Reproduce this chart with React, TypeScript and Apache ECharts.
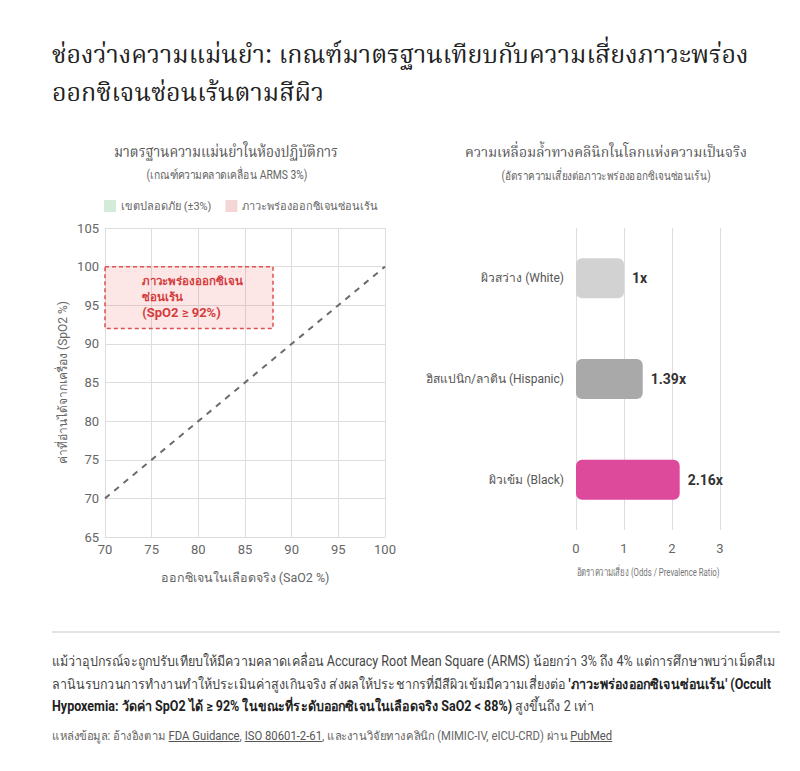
import React, { useEffect, useLayoutEffect, useRef, useState } from "react";
import * as echarts from "echarts";

// ---------- data ----------
const titleLines = [
  "ช่องว่างความแม่นยำ: เกณฑ์มาตรฐานเทียบกับความเสี่ยงภาวะพร่อง",
  "ออกซิเจนซ่อนเร้นตามสีผิว",
];
const leftTitle = "มาตรฐานความแม่นยำในห้องปฏิบัติการ";
const leftSubtitle = "(เกณฑ์ความคลาดเคลื่อน ARMS 3%)";
const rightTitle = "ความเหลื่อมล้ำทางคลินิกในโลกแห่งความเป็นจริง";
const rightSubtitle = "(อัตราความเสี่ยงต่อภาวะพร่องออกซิเจนซ่อนเร้น)";
const legendNames = ["เขตปลอดภัย (±3%)", "ภาวะพร่องออกซิเจนซ่อนเร้น"];
const xRange = [70, 100];
const yRange = [65, 105];
const tickStep = 5;
const identityLine = [
  [70, 70],
  [100, 100],
];
const occultX = [70, 88];
const occultY = [92, 100];
const occultLabelTh = ["ภาวะพร่องออกซิเจน", "ซ่อนเร้น"];
const occultLabelEn = "(SpO2 ≥ 92%)";
const leftXName = "ออกซิเจนในเลือดจริง (SaO2 %)";
const leftYName = "ค่าที่อ่านได้จากเครื่อง (SpO2 %)";

const groups = ["ผิวสว่าง (White)", "ฮิสแปนิก/ลาติน (Hispanic)", "ผิวเข้ม (Black)"];
const ratios = [1, 1.39, 2.16];
const barColors = ["#d2d2d2", "#a9a9a9", "#dd4a9b"];
const ratioRange = [0, 3];
const rightXName = "อัตราความเสี่ยง (Odds / Prevalence Ratio)";

const SANS = "Roboto, 'Noto Sans', sans-serif";
const SERIF = "'Noto Serif Thai', serif";
const GRID_LINE = "#dddddd";

function Chart() {
  const ref = useRef<HTMLDivElement>(null);
  useEffect(() => {
    if (!ref.current) return;
    const chart = echarts.init(ref.current, null, { renderer: "svg" });
    const centerText = (
      text: string,
      x: number,
      y: number,
      font: string,
      fill: string,
      sx: number
    ) => ({
      type: "text",
      x,
      y,
      scaleX: sx,
      silent: true,
      style: {
        text,
        font,
        fill,
        align: "center",
        verticalAlign: "middle",
        textAlign: "center",
        textVerticalAlign: "middle",
      },
    });
    chart.setOption({
      animation: false,
      backgroundColor: "#ffffff",
      textStyle: { fontFamily: SANS },
      graphic: [
        centerText(leftTitle, 226, 153, `15px ${SERIF}`, "#555555", 0.92),
        centerText(leftSubtitle, 227, 175, `12px ${SANS}`, "#666666", 0.86),
        centerText(rightTitle, 606, 153, `15px ${SERIF}`, "#555555", 0.93),
        centerText(rightSubtitle, 606, 176, `12px ${SANS}`, "#666666", 0.83),
        centerText(rightXName, 648, 572, `11px ${SANS}`, "#777777", 0.71),
      ],
      legend: {
        data: legendNames,
        left: 99,
        top: 195,
        icon: "rect",
        itemWidth: 12,
        itemHeight: 12,
        itemGap: 14,
        textStyle: { color: "#666666", fontSize: 11, fontFamily: SANS },
        selectedMode: false,
      },
      grid: [
        { left: 105, top: 228, width: 280, height: 309 },
        { left: 576, top: 228, width: 144, height: 302 },
      ],
      xAxis: [
        {
          gridIndex: 0,
          type: "value",
          min: xRange[0],
          max: xRange[1],
          interval: tickStep,
          axisLine: { show: true, lineStyle: { color: GRID_LINE } },
          axisTick: { show: false },
          axisLabel: { color: "#666666", fontSize: 13, margin: 6 },
          splitLine: { show: true, lineStyle: { color: GRID_LINE } },
          name: leftXName,
          nameLocation: "middle",
          nameGap: 34,
          nameTextStyle: { color: "#666666", fontSize: 12.5 },
        },
        {
          gridIndex: 1,
          type: "value",
          min: ratioRange[0],
          max: ratioRange[1],
          interval: 1,
          axisLine: { show: false },
          axisTick: { show: false },
          axisLabel: { color: "#666666", fontSize: 13, margin: 12 },
          splitLine: { show: true, lineStyle: { color: GRID_LINE } },
        },
      ],
      yAxis: [
        {
          gridIndex: 0,
          type: "value",
          min: yRange[0],
          max: yRange[1],
          interval: tickStep,
          axisLine: { show: true, lineStyle: { color: GRID_LINE } },
          axisTick: { show: false },
          axisLabel: { color: "#666666", fontSize: 13, margin: 6 },
          splitLine: { show: true, lineStyle: { color: GRID_LINE } },
          name: leftYName,
          nameLocation: "middle",
          nameGap: 36,
          nameTextStyle: { color: "#666666", fontSize: 12 },
        },
        {
          gridIndex: 1,
          type: "category",
          data: groups,
          inverse: true,
          axisLine: { show: false },
          axisTick: { show: false },
          axisLabel: { color: "#555555", fontSize: 12, margin: 12 },
          splitLine: { show: false },
        },
      ],
      series: [
        {
          name: legendNames[0],
          type: "line",
          xAxisIndex: 0,
          yAxisIndex: 0,
          data: [],
          color: "#d3ebd8",
          itemStyle: { color: "#d3ebd8" },
          lineStyle: { color: "#d3ebd8" },
        },
        {
          name: legendNames[1],
          type: "line",
          xAxisIndex: 0,
          yAxisIndex: 0,
          data: [],
          color: "#f5d6d6",
          itemStyle: { color: "#f5d6d6" },
          lineStyle: { color: "#f5d6d6" },
          markArea: {
            silent: true,
            itemStyle: {
              color: "rgba(232, 90, 90, 0.15)",
              borderColor: "#e05050",
              borderWidth: 1.5,
              borderType: [4, 3],
            },
            label: {
              show: true,
              position: [38, 31],
              align: "left",
              verticalAlign: "middle",
              color: "#d43c3c",
              fontWeight: "bold",
              fontFamily: SANS,
              formatter: () =>
                `{th|${occultLabelTh[0]}}\n{th|${occultLabelTh[1]}}\n{en|${occultLabelEn}}`,
              rich: {
                th: {
                  fontSize: 11.5,
                  lineHeight: 16,
                  fontWeight: "bold",
                  color: "#d43c3c",
                  fontFamily: SANS,
                },
                en: {
                  fontSize: 13,
                  lineHeight: 16,
                  fontWeight: "bold",
                  color: "#d43c3c",
                  fontFamily: SANS,
                },
              },
            },
            data: [
              [
                { coord: [occultX[0], occultY[1]] },
                { coord: [occultX[1], occultY[0]] },
              ],
            ],
          },
        },
        {
          name: "identity",
          type: "line",
          xAxisIndex: 0,
          yAxisIndex: 0,
          data: identityLine,
          symbol: "none",
          lineStyle: { color: "#6b6b6b", width: 2, type: [6, 6] },
          silent: true,
        },
        {
          name: "ratio",
          type: "bar",
          xAxisIndex: 1,
          yAxisIndex: 1,
          barWidth: 40,
          data: ratios.map((v, i) => ({ value: v, itemStyle: { color: barColors[i] } })),
          itemStyle: { borderRadius: 6 },
          label: {
            show: true,
            position: "right",
            distance: 8,
            color: "#333333",
            fontWeight: "bold",
            fontSize: 14,
            formatter: (p: any) => `${p.value}x`,
          },
          silent: true,
        },
      ],
    });
    return () => chart.dispose();
  }, []);
  return (
    <div
      ref={ref}
      style={{ position: "absolute", left: 0, top: 0, width: 800, height: 615 }}
    />
  );
}

// scales a block horizontally so that its measured line fits the target width
function useFit(target: number) {
  const ref = useRef<HTMLSpanElement>(null);
  const [s, setS] = useState(1);
  useLayoutEffect(() => {
    const measure = () => {
      const el = ref.current;
      if (!el) return;
      const w = el.offsetWidth;
      if (w > 0) setS(Math.min(1, target / w));
    };
    measure();
    const fonts = (document as any).fonts;
    if (fonts && fonts.ready) fonts.ready.then(measure);
  }, [target]);
  return [ref, s] as const;
}

export default function App() {
  const linkStyle: React.CSSProperties = { textDecoration: "underline", color: "#555" };
  const [titleRef, titleScale] = useFit(700);
  const [paraRef, paraScale] = useFit(723);
  const [srcRef, srcScale] = useFit(560);
  return (
    <div
      style={{
        position: "absolute",
        left: 0,
        top: 0,
        width: 800,
        height: 771,
        background: "#ffffff",
        overflow: "hidden",
      }}
    >
      <Chart />
      <div
        style={{
          position: "absolute",
          left: 52,
          top: 37,
          fontFamily: SERIF,
          fontSize: 25,
          lineHeight: "38px",
          color: "#222222",
          whiteSpace: "nowrap",
          transformOrigin: "0 0",
          transform: `scaleX(${titleScale})`,
        }}
      >
        <div>
          <span ref={titleRef} style={{ display: "inline-block" }}>
            {titleLines[0]}
          </span>
        </div>
        <div>{titleLines[1]}</div>
      </div>
      <div
        style={{
          position: "absolute",
          left: 52,
          top: 631,
          width: 728,
          height: 0,
          borderTop: "2px solid #e3e3e3",
        }}
      />
      <div
        style={{
          position: "absolute",
          left: 52,
          top: 650,
          fontFamily: SANS,
          fontSize: 14,
          lineHeight: "22.5px",
          color: "#444444",
          whiteSpace: "nowrap",
          transformOrigin: "0 0",
          transform: `scaleX(${paraScale})`,
        }}
      >
        <div>
          <span ref={paraRef} style={{ display: "inline-block" }}>
            แม้ว่าอุปกรณ์จะถูกปรับเทียบให้มีความคลาดเคลื่อน Accuracy Root Mean Square (ARMS) น้อยกว่า 3% ถึง 4% แต่การศึกษาพบว่าเม็ดสีเม
          </span>
        </div>
        <div>
          ลานินรบกวนการทำงานทำให้ประเมินค่าสูงเกินจริง ส่งผลให้ประชากรที่มีสีผิวเข้มมีความเสี่ยงต่อ{" "}
          <b style={{ color: "#222" }}>'ภาวะพร่องออกซิเจนซ่อนเร้น' (Occult</b>
        </div>
        <div>
          <b style={{ color: "#222" }}>
            Hypoxemia: วัดค่า SpO2 ได้ ≥ 92% ในขณะที่ระดับออกซิเจนในเลือดจริง SaO2 &lt; 88%)
          </b>{" "}
          สูงขึ้นถึง 2 เท่า
        </div>
      </div>
      <div
        style={{
          position: "absolute",
          left: 52,
          top: 727,
          fontFamily: SANS,
          fontSize: 12,
          lineHeight: "18px",
          color: "#666666",
          whiteSpace: "nowrap",
          transformOrigin: "0 0",
          transform: `scaleX(${srcScale})`,
        }}
      >
        <span ref={srcRef} style={{ display: "inline-block" }}>
          แหล่งข้อมูล: อ้างอิงตาม <span style={linkStyle}>FDA Guidance</span>,{" "}
          <span style={linkStyle}>ISO 80601-2-61</span>, และงานวิจัยทางคลินิก (MIMIC-IV, eICU-CRD) ผ่าน{" "}
          <span style={linkStyle}>PubMed</span>
        </span>
      </div>
    </div>
  );
}
